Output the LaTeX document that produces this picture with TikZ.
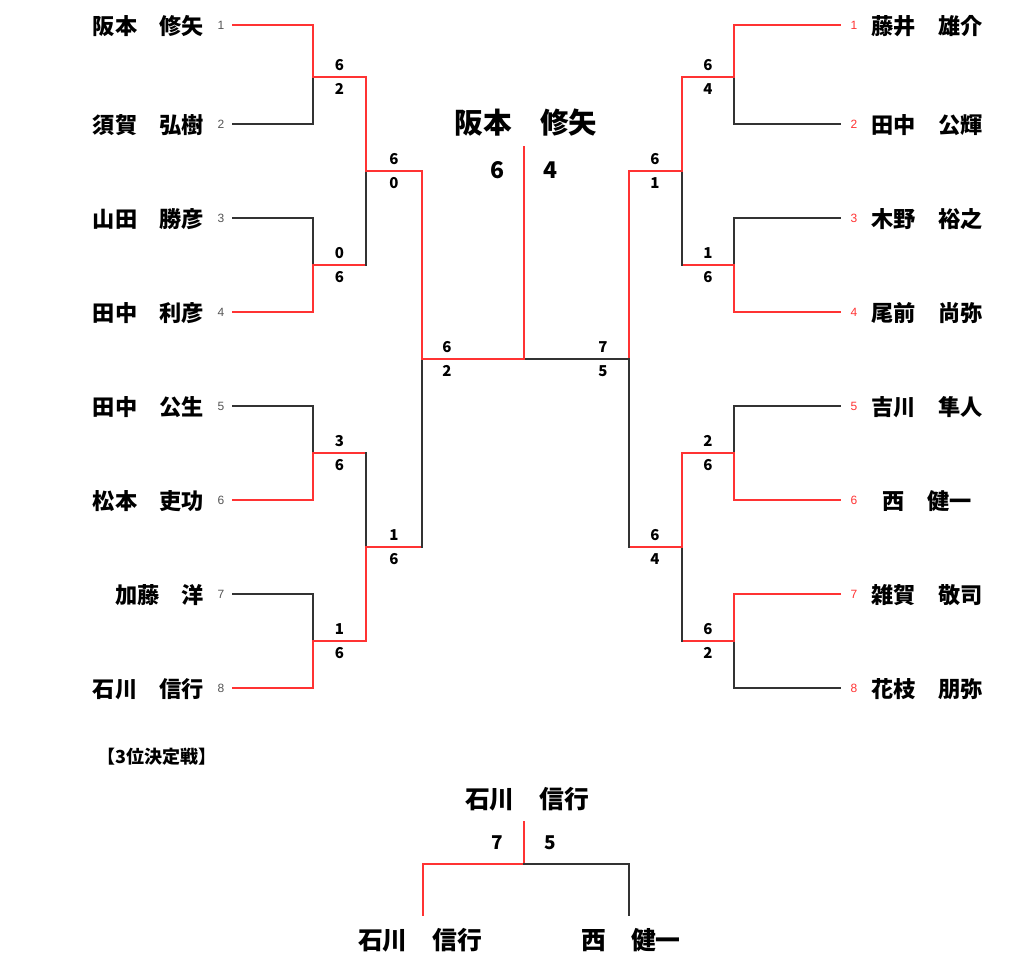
\documentclass[tikz,border=0pt]{standalone}
\usepackage{fontspec}
\setmainfont{Noto Sans CJK JP}
\newfontfamily\seedfont{Liberation Sans}
\definecolor{winred}{HTML}{FF3333}
\definecolor{losegray}{HTML}{333333}
\definecolor{seedgray}{HTML}{555555}
\tikzset{
  wline/.style={draw=winred, line width=1.6pt, line cap=rect},
  lline/.style={draw=losegray, line width=1.6pt, line cap=rect},
  pname/.style={inner sep=0pt, font=\fontsize{22.2}{22.2}\selectfont\bfseries},
  seedL/.style={inner sep=0pt, text=seedgray, font=\seedfont\fontsize{12}{12}\selectfont},
  seedR/.style={inner sep=0pt, text=winred, font=\seedfont\fontsize{12}{12}\selectfont},
  score/.style={inner sep=0pt, font=\fontsize{15}{15}\selectfont\bfseries},
  bigscore/.style={inner sep=0pt, font=\fontsize{23}{23}\selectfont\bfseries},
  midscore/.style={inner sep=0pt, font=\fontsize{19}{19}\selectfont\bfseries},
  bigname/.style={inner sep=0pt, font=\fontsize{28.6}{28.6}\selectfont\bfseries},
  midname/.style={inner sep=0pt, font=\fontsize{24.8}{24.8}\selectfont\bfseries},
  titlelabel/.style={inner sep=0pt, anchor=west, font=\fontsize{18}{18}\selectfont\bfseries},
}
\begin{document}
\begin{tikzpicture}[x=1pt,y=-1pt]
\useasboundingbox[fill=white] (0,0) rectangle (1024,967);

% ---------- players ----------
\foreach \i/\y/\nm in {1/25/阪本　修矢,2/124/須賀　弘樹,3/218/山田　勝彦,4/312/田中　利彦,
                       5/406/田中　公生,6/500/松本　吏功,7/594/加藤　洋,8/688/石川　信行}{
  \node[pname, anchor=east] (nL\i) at (204,\y+1) {\nm};
  \node[seedL] (sL\i) at (221,\y) {\i};
  \coordinate (aL\i) at (233,\y);
}
\foreach \i/\y/\nm in {1/25/藤井　雄介,2/124/田中　公輝,3/218/木野　裕之,4/312/尾前　尚弥,
                       5/406/吉川　隼人,6/500/西　健一,7/594/雑賀　敬司,8/688/花枝　朋弥}{
  \node[pname] (nR\i) at (927,\y+1) {\nm};
  \node[seedR] (sR\i) at (854,\y) {\i};
  \coordinate (aR\i) at (840,\y);
}

% ---------- junctions ----------
\coordinate (pL1) at (313,77);  \coordinate (pL2) at (313,265);
\coordinate (pL3) at (313,453); \coordinate (pL4) at (313,641);
\coordinate (qL1) at (366,171); \coordinate (qL2) at (366,547);
\coordinate (rL)  at (422,359);
\coordinate (pR1) at (734,77);  \coordinate (pR2) at (734,265);
\coordinate (pR3) at (734,453); \coordinate (pR4) at (734,641);
\coordinate (qR1) at (682,171); \coordinate (qR2) at (682,547);
\coordinate (rR)  at (629,359);
\coordinate (ctr) at (524,359);
\coordinate (ctop) at (524,147);

% ---------- left bracket ----------
\draw[wline] (aL1) -| (pL1);
\draw[lline] (aL2) -| (pL1);
\draw[lline] (aL3) -| (pL2);
\draw[wline] (aL4) -| (pL2);
\draw[lline] (aL5) -| (pL3);
\draw[wline] (aL6) -| (pL3);
\draw[lline] (aL7) -| (pL4);
\draw[wline] (aL8) -| (pL4);
\draw[wline] (pL1) -| (qL1);
\draw[wline] (pL2) -- (pL2 -| qL1);
\draw[lline] (pL2 -| qL1) -- (qL1);
\draw[wline] (pL3) -- (pL3 -| qL2);
\draw[lline] (pL3 -| qL2) -- (qL2);
\draw[wline] (pL4) -| (qL2);
\draw[wline] (qL1) -| (rL);
\draw[wline] (qL2) -- (qL2 -| rL);
\draw[lline] (qL2 -| rL) -- (rL);
\draw[wline] (rL) -- (ctr);

% ---------- right bracket ----------
\draw[wline] (aR1) -| (pR1);
\draw[lline] (aR2) -| (pR1);
\draw[lline] (aR3) -| (pR2);
\draw[wline] (aR4) -| (pR2);
\draw[lline] (aR5) -| (pR3);
\draw[wline] (aR6) -| (pR3);
\draw[wline] (aR7) -| (pR4);
\draw[lline] (aR8) -| (pR4);
\draw[wline] (pR1) -| (qR1);
\draw[wline] (pR2) -- (pR2 -| qR1);
\draw[lline] (pR2 -| qR1) -- (qR1);
\draw[wline] (pR3) -| (qR2);
\draw[wline] (pR4) -- (pR4 -| qR2);
\draw[lline] (pR4 -| qR2) -- (qR2);
\draw[wline] (qR1) -| (rR);
\draw[wline] (qR2) -- (qR2 -| rR);
\draw[lline] (qR2 -| rR) -- (rR);
\draw[lline] (rR) -- (ctr);
\draw[wline] (ctr) -- (ctop);

% ---------- scores ----------
\foreach \n/\x/\h/\a/\b in {sp1/339.5/77/6/2, sp2/339.5/265/0/6, sp3/339.5/453/3/6, sp4/339.5/641/1/6,
                            sq1/394/171/6/0, sq2/394/547/1/6, sr/447/359/6/2,
                            tp1/708/77/6/4, tp2/708/265/1/6, tp3/708/453/2/6, tp4/708/641/6/2,
                            tq1/655/171/6/1, tq2/655/547/6/4, tr/603/359/7/5}{
  \node[score] (\n a) at (\x,\h-12) {\a};
  \node[score] (\n b) at (\x,\h+12) {\b};
}

% ---------- champion ----------
\node[bigname] (champ) at (526,123) {阪本　修矢};
\node[bigscore] (fs1) at (497,170) {6};
\node[bigscore] (fs2) at (550,170) {4};

% ---------- third place ----------
\node[titlelabel] (ttl) at (97,757) {【3位決定戦】};
\node[midname] (third) at (527,799) {石川　信行};
\node[midscore] (ts1) at (497,843) {7};
\node[midscore] (ts2) at (550,843) {5};
\coordinate (t3top) at (524,822);
\coordinate (t3mid) at (524,864);
\coordinate (t3l) at (423,915);
\coordinate (t3r) at (629,915);
\draw[wline] (t3top) -- (t3mid);
\draw[wline] (t3mid) -| (t3l);
\draw[lline] (t3mid) -| (t3r);
\node[midname] (b3l) at (420,940) {石川　信行};
\node[midname] (b3r) at (631,940) {西　健一};
\end{tikzpicture}
\end{document}
